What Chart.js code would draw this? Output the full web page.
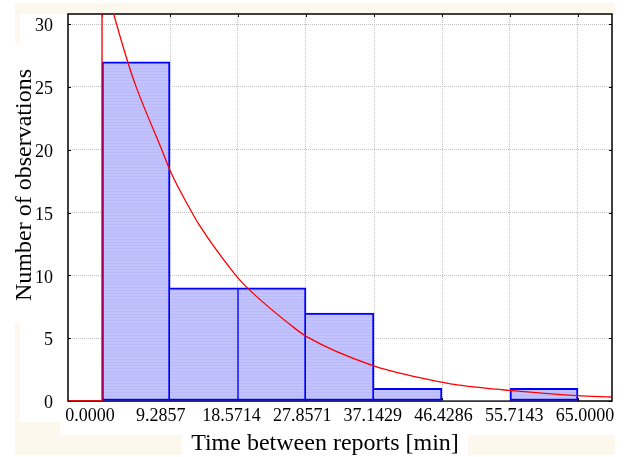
<!DOCTYPE html>
<html>
<head>
<meta charset="utf-8">
<script src="https://cdn.jsdelivr.net/npm/chart.js@4.4.1/dist/chart.umd.min.js"></script>
<style>
  html, body { margin: 0; padding: 0; background: #fff; }
  #wrap { width: 627px; height: 457px; position: relative; }
</style>
</head>
<body>
<div id="wrap"><canvas id="histChart"></canvas></div>
<script>
// Histogram bins (edges are the x tick labels)
const xTickValues = [0, 9.2857, 18.5714, 27.8571, 37.1429, 46.4286, 55.7143, 65.0];
const xTickLabels = ['0.0000', '9.2857', '18.5714', '27.8571', '37.1429', '46.4286', '55.7143', '65.0000'];
const binCenters = [4.6429, 13.9286, 23.2143, 32.5, 41.7857, 51.0714, 60.3571];
const binCounts = [27, 9, 9, 7, 1, 0, 1];
const yTickValues = [0, 5, 10, 15, 20, 25, 30];

// Fitted curve (red)
const fitStepX = [-4.64, 0, 0];
const fitStepY = [0, 0, 34.3];
const fitCurveX = [0, 1.6, 3.4, 4.6, 8.3, 9.4, 12.0, 13.3, 18.0, 19.5, 26.3, 28.0, 37.1, 46.4, 48.8, 55.6, 64.9, 69.6];
const fitCurveY = [34.3, 30.8, 27.2, 25.1, 19.8, 18.2, 15.3, 14.0, 10.2, 9.2, 5.8, 5.1, 2.8, 1.5, 1.26, 0.84, 0.43, 0.32];

const xTitle = 'Time between reports [min]';
const yTitle = 'Number of observations';

Chart.defaults.font.family = "'Liberation Serif', 'Times New Roman', serif";
Chart.defaults.color = '#000';
Chart.defaults.responsive = true;
Chart.defaults.maintainAspectRatio = false;
Chart.defaults.animation = false;

// light lavender fill with faint horizontal stripes
function makeStripes() {
    const c = document.createElement('canvas');
    c.width = 4;
    c.height = 3;
    const g = c.getContext('2d');
    g.fillStyle = '#c2c2ff';
    g.fillRect(0, 0, 4, 3);
    g.fillStyle = '#b9b9f7';
    g.fillRect(0, 2, 4, 1);
    return g.createPattern(c, 'repeat');
}

// shared edges: taller bar draws the line, equal bars split it
function sideWidth(cur, other) {
    if (!other) return 2;
    if (other > cur) return 0;
    if (other === cur) return 1;
    return 2;
}

const framePlugin = {
    id: 'frame',
    beforeDraw(chart) {
        const ctx = chart.ctx;
        ctx.save();
        ctx.fillStyle = '#fff';
        ctx.fillRect(0, 0, chart.width, chart.height);
        ctx.fillStyle = '#fdf8ee';
        [[15, 3, 600, 11], [15, 14, 5, 29], [15, 323, 5, 132], [15, 422, 45, 33],
         [60, 435, 122, 20], [468, 435, 147, 20]].forEach(r => ctx.fillRect(r[0], r[1], r[2], r[3]));
        ctx.restore();
    },
    beforeDatasetsDraw(chart) {
        const { ctx, chartArea: a, scales } = chart;
        ctx.save();
        ctx.strokeStyle = '#000';
        ctx.lineWidth = 1.5;
        ctx.strokeRect(a.left, a.top, a.right - a.left, a.bottom - a.top);
        ctx.lineWidth = 1;
        ctx.beginPath();
        xTickValues.forEach(v => {
            const px = Math.round(scales.x.getPixelForValue(v)) + 0.5;
            ctx.moveTo(px, a.top); ctx.lineTo(px, a.top + 3);
            ctx.moveTo(px, a.bottom); ctx.lineTo(px, a.bottom - 3);
        });
        yTickValues.forEach(v => {
            const py = Math.round(scales.y.getPixelForValue(v)) + 0.5;
            ctx.moveTo(a.left, py); ctx.lineTo(a.left + 3, py);
            ctx.moveTo(a.right, py); ctx.lineTo(a.right - 3, py);
        });
        ctx.stroke();
        ctx.restore();
    },
    afterDraw(chart) {
        const ctx = chart.ctx;
        ctx.save();
        ctx.fillStyle = '#000';
        ctx.font = "24px 'Liberation Serif', 'Times New Roman', serif";
        ctx.textBaseline = 'alphabetic';
        ctx.textAlign = 'center';
        ctx.fillText(xTitle, 325, 450);
        ctx.translate(31, 185);
        ctx.rotate(-Math.PI / 2);
        ctx.fillText(yTitle, 0, 0);
        ctx.restore();
    }
};

const ctx = document.getElementById('histChart').getContext('2d');

new Chart(ctx, {
    type: 'bar',
    data: {
        datasets: [
            {
                type: 'line',
                data: fitStepX.map((x, i) => ({ x: x, y: fitStepY[i] })),
                borderColor: '#ff0000',
                borderWidth: 1.3,
                pointRadius: 0,
                tension: 0,
                fill: false,
                order: 0
            },
            {
                type: 'line',
                data: fitCurveX.map((x, i) => ({ x: x, y: fitCurveY[i] })),
                borderColor: '#ff0000',
                borderWidth: 1.3,
                pointRadius: 0,
                cubicInterpolationMode: 'monotone',
                fill: false,
                order: 0
            },
            {
                type: 'bar',
                data: binCenters.map((x, i) => ({ x: x, y: binCounts[i] })),
                backgroundColor: makeStripes(),
                borderColor: '#0000ff',
                borderSkipped: false,
                borderWidth: (c) => {
                    const i = c.dataIndex;
                    const cur = binCounts[i];
                    if (!cur) return 0;
                    return {
                        top: 2,
                        bottom: 2,
                        left: sideWidth(cur, binCounts[i - 1]),
                        right: sideWidth(cur, binCounts[i + 1])
                    };
                },
                barPercentage: 1,
                categoryPercentage: 1,
                order: 1
            }
        ]
    },
    options: {
        layout: { padding: { top: 14, right: 15, bottom: 0, left: 0 } },
        plugins: {
            legend: { display: false },
            tooltip: { enabled: false }
        },
        scales: {
            x: {
                type: 'linear',
                position: 'bottom',
                min: -4.6429,
                max: 69.6429,
                offset: false,
                afterBuildTicks: (s) => { s.ticks = xTickValues.map(v => ({ value: v })); },
                afterFit: (s) => { s.height = 0; s.paddingLeft = 0; s.paddingRight = 0; },
                grid: { offset: false, color: '#c2c2c2', drawTicks: false },
                border: { display: false, dash: [1, 1] },
                ticks: { display: false }
            },
            // label axis: the tick labels sit slightly off the bin edges in the source
            x2: {
                type: 'linear',
                position: 'bottom',
                min: -0.3111,
                max: 7.3818,
                offset: false,
                afterBuildTicks: (s) => { s.ticks = xTickLabels.map((_, i) => ({ value: i })); },
                afterFit: (s) => { s.height = 56; s.paddingLeft = 0; s.paddingRight = 0; },
                grid: { display: false, drawTicks: false, offset: false },
                border: { display: false },
                ticks: {
                    autoSkip: false,
                    maxRotation: 0,
                    padding: 4,
                    font: { size: 18 },
                    callback: (v, i) => xTickLabels[i]
                }
            },
            y: {
                type: 'linear',
                min: 0,
                max: 30.8,
                afterBuildTicks: (s) => { s.ticks = yTickValues.map(v => ({ value: v })); },
                afterFit: (s) => { s.width = 68; s.paddingTop = 0; s.paddingBottom = 0; },
                grid: { color: '#c2c2c2', drawTicks: false },
                border: { display: false, dash: [1, 1] },
                ticks: {
                    padding: 15,
                    labelOffset: 2.5,
                    font: { size: 18 }
                }
            }
        }
    },
    plugins: [framePlugin]
});
</script>
</body>
</html>
